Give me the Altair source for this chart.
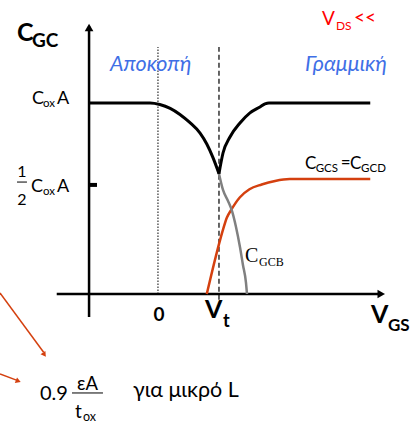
import altair as alt
import pandas as pd

# ---- scale frame (V_GS in units of Vt, C in units of Cox*A) ----
X_DOM = [-2.590, 4.230]
Y_DOM = [-0.691, 1.539]

# ---- curves ----
cgc_left_v = [-1.13, -0.13, 0.03, 0.20, 0.36, 0.52, 0.69, 0.80, 0.90, 1.00]
cgc_left_c = [1.0, 1.0, 0.992, 0.972, 0.940, 0.898, 0.842, 0.785, 0.715, 0.630]

cgc_right_v = [1.00, 1.066, 1.18, 1.344, 1.508, 1.672, 1.754, 1.82, 3.48]
cgc_right_c = [0.630, 0.738, 0.822, 0.895, 0.948, 0.979, 0.995, 1.0, 1.0]

cgcb_v = [1.00, 1.066, 1.148, 1.213, 1.279, 1.344, 1.393, 1.443, 1.459]
cgcb_c = [0.630, 0.545, 0.487, 0.435, 0.351, 0.246, 0.152, 0.058, 0.0]

cgcs_v = [0.80, 1.02, 1.06, 1.13, 1.20, 1.34, 1.50, 1.70, 1.92, 2.16, 3.48]
cgcs_c = [0.0, 0.285, 0.33, 0.40, 0.44, 0.505, 0.548, 0.573, 0.592, 0.602, 0.602]

# ---- reference levels ----
v_zero = 0.0
v_t = 1.0
half_level = 0.571
guide_top = 1.293

BLUE = "#3F6FE6"
ORANGE = "#D4400F"
RED = "#FF0000"
SANS = "Lato"
SERIF = "Liberation Serif"


def xs():
    return alt.X("x:Q", scale=alt.Scale(domain=X_DOM), axis=None)


def ys():
    return alt.Y("y:Q", scale=alt.Scale(domain=Y_DOM), axis=None)


def curve(v, c, color, width):
    df = pd.DataFrame({"x": v, "y": c, "i": range(len(v))})
    return alt.Chart(df).mark_line(
        color=color, strokeWidth=width, interpolate="monotone"
    ).encode(x=xs(), y=ys(), order="i:Q")


def segs(rows, **kw):
    df = pd.DataFrame(rows, columns=["x", "y", "x2", "y2"])
    return alt.Chart(df).mark_rule(**kw).encode(
        x=xs(), y=ys(), x2="x2:Q", y2="y2:Q"
    )


def heads(rows, size, color):
    df = pd.DataFrame(rows, columns=["x", "y", "angle"])
    return alt.Chart(df).mark_point(
        shape="triangle-up", filled=True, size=size, color=color, opacity=1
    ).encode(x=xs(), y=ys(), angle=alt.Angle("angle:Q", scale=None))


def labels(rows, size, color="black", font=SANS, weight="normal",
           style="normal", align="left"):
    df = pd.DataFrame(rows, columns=["text", "x", "y"])
    return alt.Chart(df).mark_text(
        align=align, baseline="alphabetic", fontSize=size, color=color,
        font=font, fontWeight=weight, fontStyle=style
    ).encode(x=xs(), y=ys(), text="text:N")


layers = [
    # guides at 0 and Vt
    segs([[v_zero, 0.0, v_zero, guide_top]], color="black", strokeWidth=1,
         strokeDash=[1.5, 1.5]),
    segs([[v_t, -0.03, v_t, guide_top]], color="#333333", strokeWidth=1.5,
         strokeDash=[5, 3]),
    # axes
    segs([[-1.13, -0.12, -1.13, 1.40], [-1.66, 0.0, 3.66, 0.0]],
         color="black", strokeWidth=2.5),
    heads([[-1.13, 1.395, 0], [3.66, 0.0, 90]], 75, "black"),
    # half-level tick
    segs([[-1.13, half_level, -1.0, half_level]], color="black",
         strokeWidth=4),
    # curves
    curve(cgcs_v, cgcs_c, ORANGE, 2.5),
    curve(cgcb_v, cgcb_c, "#808080", 2.5),
    curve(cgc_left_v, cgc_left_c, "black", 3),
    curve(cgc_right_v, cgc_right_c, "black", 3),
    # pointers to the short-channel value
    segs([[-2.59, 0.005, -1.875, -0.305], [-2.59, -0.419, -2.31, -0.452]],
         color=ORANGE, strokeWidth=1.5),
    heads([[-1.862, -0.318, 145], [-2.29, -0.456, 112]], 35, ORANGE),
    # fraction bars
    segs([[-2.311, 0.586, -2.148, 0.586]], color="black", strokeWidth=1),
    segs([[-1.410, -0.518, -0.902, -0.518]], color="#555555",
         strokeWidth=1.5),
    # axis titles and tick names
    labels([["C", -2.311, 1.325]], 25, weight="bold"),
    labels([["GC", -2.066, 1.293]], 19, weight="bold"),
    labels([["0", 0.016, -0.141]], 19, weight="bold", align="center"),
    labels([["V", 0.770, -0.126], ["V", 3.492, -0.152]], 25, weight="bold"),
    labels([["t", 1.066, -0.173]], 18, weight="bold"),
    labels([["GS", 3.770, -0.194]], 17, weight="bold"),
    # region names
    labels([["Αποκοπή", -0.787, 1.168], ["Γραμμική", 2.410, 1.168]], 21.5,
           color=BLUE, style="italic"),
    # V_DS condition
    labels([["V", 2.689, 1.408], ["<<", 3.213, 1.414]], 19, color=RED),
    labels([["DS", 2.918, 1.382]], 12, color=RED),
    # level labels
    labels([["C", -2.066, 0.995], ["A", -1.656, 0.995],
            ["C", -2.082, 0.534], ["A", -1.656, 0.534]], 18),
    labels([["ox", -1.885, 0.979], ["ox", -1.885, 0.518]], 11.5),
    labels([["1", -2.230, 0.613], ["2", -2.230, 0.466]], 16, align="center"),
    # curve names
    labels([["C", 2.410, 0.654], ["=", 2.995, 0.660], ["C", 3.150, 0.654]],
           17),
    labels([["GCS", 2.585, 0.639], ["GCD", 3.330, 0.639]], 11.5),
    labels([["C", 1.426, 0.168]], 20, font=SERIF),
    labels([["GCB", 1.656, 0.147]], 12, font=SERIF),
    # short-channel formula
    labels([["0.9", -1.934, -0.555]], 20),
    labels([["εA", -1.156, -0.500]], 18.5, align="center"),
    labels([["t", -1.361, -0.649]], 19),
    labels([["ox", -1.230, -0.665]], 12.5),
    labels([["για μικρό L", -0.410, -0.539]], 21.5),
]

chart = alt.layer(*layers).properties(
    width=416, height=426, padding=0, autosize=alt.AutoSizeParams(type="none"),
    background="white"
).configure_view(stroke=None)

chart.save("out.html", embed_options={"renderer": "svg", "actions": False})
